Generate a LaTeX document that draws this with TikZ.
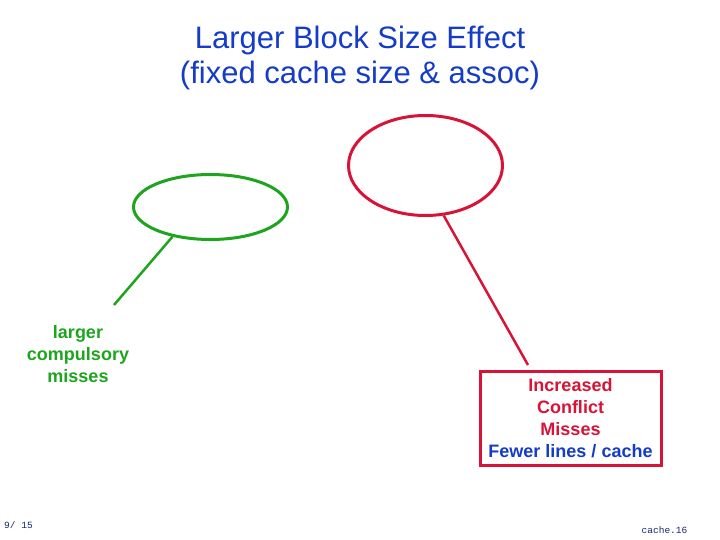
\documentclass[tikz,border=0pt]{standalone}
\usepackage{fontspec}
\setmainfont{Liberation Sans}
\newfontfamily\footfont{Liberation Mono}
\usepackage{xcolor}
\usepackage{tikz}
\usetikzlibrary{positioning, shapes.geometric}

\definecolor{titleblue}{RGB}{20,60,200}
\definecolor{ringgreen}{RGB}{30,165,30}
\definecolor{ringred}{RGB}{215,20,55}
\definecolor{footblue}{RGB}{20,40,110}

\begin{document}
\begin{tikzpicture}[
    x=1pt, y=-1pt,
    font=\fontsize{18}{22}\selectfont\bfseries,
    ring/.style={
      ellipse,
      draw,
      line width=3pt,
      inner sep=0pt
    },
    greenring/.style={
      ring,
      draw=ringgreen,
      minimum width=154pt,
      minimum height=65pt
    },
    redring/.style={
      ring,
      draw=ringred,
      minimum width=154pt,
      minimum height=100pt
    },
    label/.style={
      align=center,
      inner sep=0pt
    },
    callout/.style={
      line width=2.5pt
    },
    foot/.style={
      font=\footfont\fontsize{9.5}{11}\selectfont,
      text=footblue,
      inner sep=0pt
    }
  ]

    \useasboundingbox (0,0) rectangle (720,540);

    % Title
    \node[label, font=\fontsize{31}{35}\selectfont, text=titleblue] (title)
      at (360,58) {Larger Block Size Effect\\(fixed cache size \& assoc)};

    % Compulsory side
    \node[greenring] (compring) at (210.5,207) {};
    \node[label, text=ringgreen] (compmiss) at (78,354)
      {larger\\compulsory\\misses};
    \coordinate (compend) at (114,305);
    \draw[callout, draw=ringgreen] (compring.218) -- (compend);

    % Conflict side
    \node[redring] (confring) at (425.5,165.5) {};
    \node[label, draw=ringred, line width=3pt, minimum width=181pt,
      minimum height=94pt] (confbox) at (570.5,418.5)
      {\textcolor{ringred}{Increased}\\\textcolor{ringred}{Conflict}\\
       \textcolor{ringred}{Misses}\\\textcolor{titleblue}{Fewer lines / cache}};
    \coordinate (confend) at (528,365);
    \draw[callout, draw=ringred] (confring.290) -- (confend);

    % Footer
    \node[foot] (pagenum) at (18.5,525) {9/ 15};
    \node[foot] (slideid) at (664.5,530) {cache.16};

  \end{tikzpicture}
\end{document}
